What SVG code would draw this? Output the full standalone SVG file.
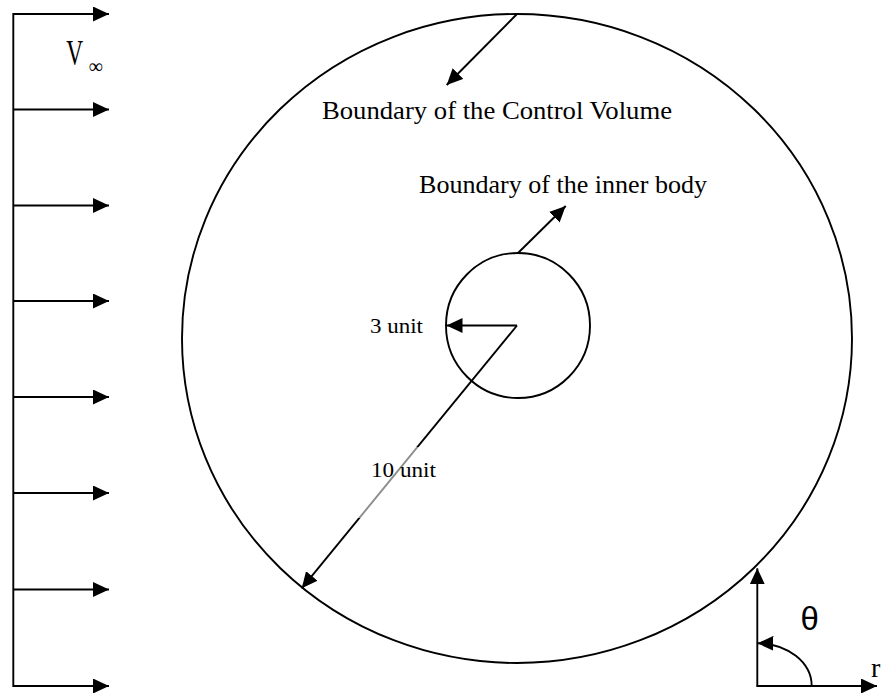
<svg xmlns="http://www.w3.org/2000/svg" width="881" height="693" viewBox="0 0 881 693">
<style>
.ln{stroke:#000;stroke-width:1.9;fill:none}
.ar{stroke:#000;stroke-width:1.9;fill:none;marker-end:url(#ah)}
.t{font-family:"Liberation Serif","Times New Roman",serif;fill:#000}
.s{font-family:"Liberation Sans",Arial,sans-serif;fill:#000}
</style>
<defs>
<marker id="ah" markerUnits="userSpaceOnUse" markerWidth="17" markerHeight="15" refX="16" refY="7.5" orient="auto">
<path d="M0,0 L16,7.5 L0,15 z" fill="#000"/>
</marker>
</defs>
<rect width="881" height="693" fill="#fff"/>

<g id="flow">
<line class="ln" x1="13.3" y1="13" x2="13.3" y2="687"/>
<line class="ar" x1="13" y1="14" x2="109" y2="14"/>
<line class="ar" x1="13" y1="109.5" x2="109" y2="109.5"/>
<line class="ar" x1="13" y1="205.5" x2="109" y2="205.5"/>
<line class="ar" x1="13" y1="301" x2="109" y2="301"/>
<line class="ar" x1="13" y1="397" x2="109" y2="397"/>
<line class="ar" x1="13" y1="493" x2="109" y2="493"/>
<line class="ar" x1="13" y1="589.5" x2="109" y2="589.5"/>
<line class="ar" x1="13" y1="686" x2="109" y2="686"/>
<text class="t" font-size="36" transform="translate(66.2,65) scale(0.65,1)">V</text>
<text class="t" font-size="20" x="88.5" y="73">∞</text>
</g>

<g id="control-volume">
<ellipse class="ln" cx="517" cy="338.5" rx="335" ry="324.5"/>
<text class="t" font-size="25" x="322" y="119.3" textLength="350" lengthAdjust="spacingAndGlyphs">Boundary of the Control Volume</text>
</g>

<g id="inner-body">
<ellipse class="ln" cx="518" cy="325.5" rx="72" ry="72.5"/>
<text class="t" font-size="25" x="419" y="192.7" textLength="288" lengthAdjust="spacingAndGlyphs">Boundary of the inner body</text>
<text class="t" font-size="22" x="370" y="333.3" textLength="53" lengthAdjust="spacingAndGlyphs">3 unit</text>
</g>

<g id="connectors">
<line class="ar" x1="517" y1="14" x2="446.7" y2="85"/>
<line class="ar" x1="518" y1="253" x2="565.7" y2="206"/>
<line class="ar" x1="517" y1="325.5" x2="446.5" y2="325.5"/>
<line class="ar" x1="517" y1="325.5" x2="301.7" y2="588.3"/>
</g>

<g id="ten-unit">
<rect x="348" y="447" width="120" height="71" fill="#fff" fill-opacity="0.55"/>
<text class="t" font-size="22" x="371" y="477" textLength="65" lengthAdjust="spacingAndGlyphs">10 unit</text>
</g>

<g id="axes">
<line class="ar" x1="757.3" y1="686.5" x2="757.3" y2="568.3"/>
<line class="ar" x1="756.5" y1="686" x2="877" y2="686"/>
<path class="ar" d="M811.7,686 A54.4,42.7 0 0 0 757.5,643.3"/>
<text class="s" font-size="33" x="800.5" y="630">θ</text>
<text class="t" font-size="28" x="871" y="677">r</text>
</g>
</svg>
